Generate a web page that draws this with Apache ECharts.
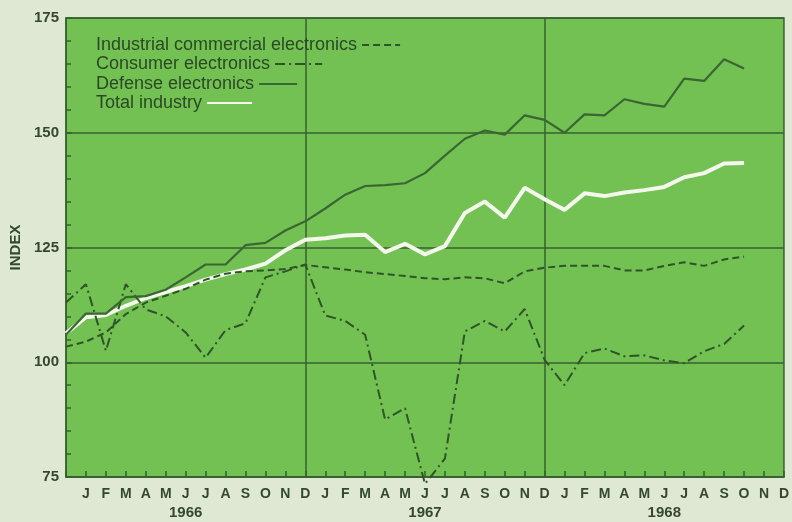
<!DOCTYPE html>
<html>
<head>
<meta charset="utf-8">
<script src="https://cdn.jsdelivr.net/npm/echarts@6/dist/echarts.min.js"></script>
<style>
html,body{margin:0;padding:0;background:#dfe8d2;}
#chart{width:792px;height:522px;}
</style>
</head>
<body>
<div id="chart"></div>
<script>
// Months from Dec 1965 to Dec 1968
const months = ['', 'J','F','M','A','M','J','J','A','S','O','N','D',
  'J','F','M','A','M','J','J','A','S','O','N','D',
  'J','F','M','A','M','J','J','A','S','O','N','D'];
const yearLabels = ['1966', '1967', '1968'];
const yTicks = [75, 100, 125, 150, 175];
const seriesNames = ['Industrial commercial electronics', 'Consumer electronics', 'Defense electronics', 'Total industry'];

// Index values, Dec 1965 .. Oct 1968
const industrial = [103.4, 104.5, 106.5, 110.5, 113, 114.5, 116, 118, 119.3, 119.8, 120, 120.3, 121.2,
  120.7, 120.2, 119.6, 119.2, 118.8, 118.3, 118.1, 118.5, 118.3, 117.2, 119.8, 120.6,
  121, 121, 121, 120, 120, 121, 121.8, 121, 122.4, 123];
const consumer = [113, 117, 102.5, 117, 111.5, 110, 106.5, 101, 107, 108.5, 118.5, 119.8, 121.3,
  110.2, 109, 106, 87.5, 90, 73.5, 79, 106.7, 109, 106.7, 111.6, 100.5,
  95, 102, 103, 101.3, 101.5, 100.4, 99.8, 102.4, 104, 108];
const defense = [106, 110.6, 110.6, 114.2, 114.4, 115.8, 118.5, 121.3, 121.3, 125.5, 126, 128.7, 130.7,
  133.5, 136.5, 138.4, 138.6, 139, 141.2, 145, 148.7, 150.5, 149.6, 153.8, 152.8,
  150, 154, 153.8, 157.3, 156.3, 155.7, 161.8, 161.3, 166, 164];
const total = [106.3, 109.8, 110.3, 112.3, 114, 115.3, 116.6, 118, 119.2, 120.2, 121.5, 124.4, 126.7,
  127, 127.6, 127.8, 124, 125.8, 123.5, 125.3, 132.5, 135, 131.5, 138, 135.5,
  133.2, 136.8, 136.2, 137, 137.5, 138.2, 140.3, 141.2, 143.3, 143.4];

const dark = '#37602f';
const textCol = '#34482f';
const legendTops = [36, 55, 75, 94];
const legendIconW = [38, 47, 38, 45];
const legends = seriesNames.map(function (n, i) {
  return {
    orient: 'vertical', left: 96, top: legendTops[i], align: 'right', selectedMode: false,
    itemWidth: legendIconW[i], itemHeight: 14, padding: 0,
    itemStyle: {opacity: 0},
    textStyle: {fontFamily: 'Liberation Sans', fontSize: 18, color: '#2b4826', padding: [0, 0, 0, 0]},
    data: [n]
  };
});

const chart = echarts.init(document.getElementById('chart'));
chart.setOption({
  backgroundColor: '#dfe8d2',
  animation: false,
  grid: {left: 66, right: 4, top: 18, bottom: 41, show: true,
    backgroundColor: '#73c153', borderColor: dark, borderWidth: 1.5},
  legend: legends,
  xAxis: {
    type: 'category', data: months, boundaryGap: false,
    axisLine: {lineStyle: {color: dark, width: 1.5}},
    axisTick: {inside: true, length: 6, interval: 0, lineStyle: {color: dark, width: 1.5}},
    axisLabel: {
      interval: 0, margin: 8, fontFamily: 'Liberation Sans', fontSize: 14, fontWeight: 'bold',
      color: textCol, lineHeight: 18,
      formatter: function (v, i) {
        const k = (i - 6) / 12;
        if (Number.isInteger(k) && k >= 0 && k < yearLabels.length) return v + '\n{yr|' + yearLabels[k] + '}';
        return v;
      },
      rich: {yr: {fontFamily: 'Liberation Sans', fontSize: 15, fontWeight: 'bold', color: textCol, lineHeight: 19}}
    },
    splitLine: {show: true, interval: function (i) { return i === 12 || i === 24; },
      lineStyle: {color: dark, width: 1.5}}
  },
  yAxis: {
    type: 'value', min: yTicks[0], max: yTicks[yTicks.length - 1], interval: 25,
    name: 'INDEX', nameLocation: 'middle', nameGap: 42, nameRotate: 90,
    nameTextStyle: {fontFamily: 'Liberation Sans', fontSize: 15, fontWeight: 'bold', color: textCol},
    axisLine: {show: true, lineStyle: {color: dark, width: 1.5}},
    axisTick: {show: true, inside: true, length: 6, lineStyle: {color: dark, width: 1.5}},
    minorTick: {show: true, splitNumber: 5, length: 5, lineStyle: {color: dark, width: 1.5}},
    axisLabel: {margin: 7, fontFamily: 'Liberation Sans', fontSize: 15, fontWeight: 'bold', color: textCol},
    splitLine: {show: true, lineStyle: {color: dark, width: 1.5}}
  },
  series: [
    {name: seriesNames[0], type: 'line', data: industrial, symbol: 'none', clip: false, z: 4,
      lineStyle: {color: '#2e5428', width: 2, type: [7, 4]}, itemStyle: {color: '#2e5428'}},
    {name: seriesNames[1], type: 'line', data: consumer, symbol: 'none', clip: false, z: 4,
      lineStyle: {color: '#2e5428', width: 2, type: [10, 4, 2, 4]}, itemStyle: {color: '#2e5428'}},
    {name: seriesNames[2], type: 'line', data: defense, symbol: 'none', clip: false, z: 4,
      lineStyle: {color: '#3a6634', width: 2.2}, itemStyle: {color: '#3a6634'}},
    {name: seriesNames[3], type: 'line', data: total, symbol: 'none', clip: false, z: 3,
      lineStyle: {color: '#f3f7ec', width: 4}, itemStyle: {color: '#f3f7ec'}}
  ]
});
</script>
</body>
</html>
